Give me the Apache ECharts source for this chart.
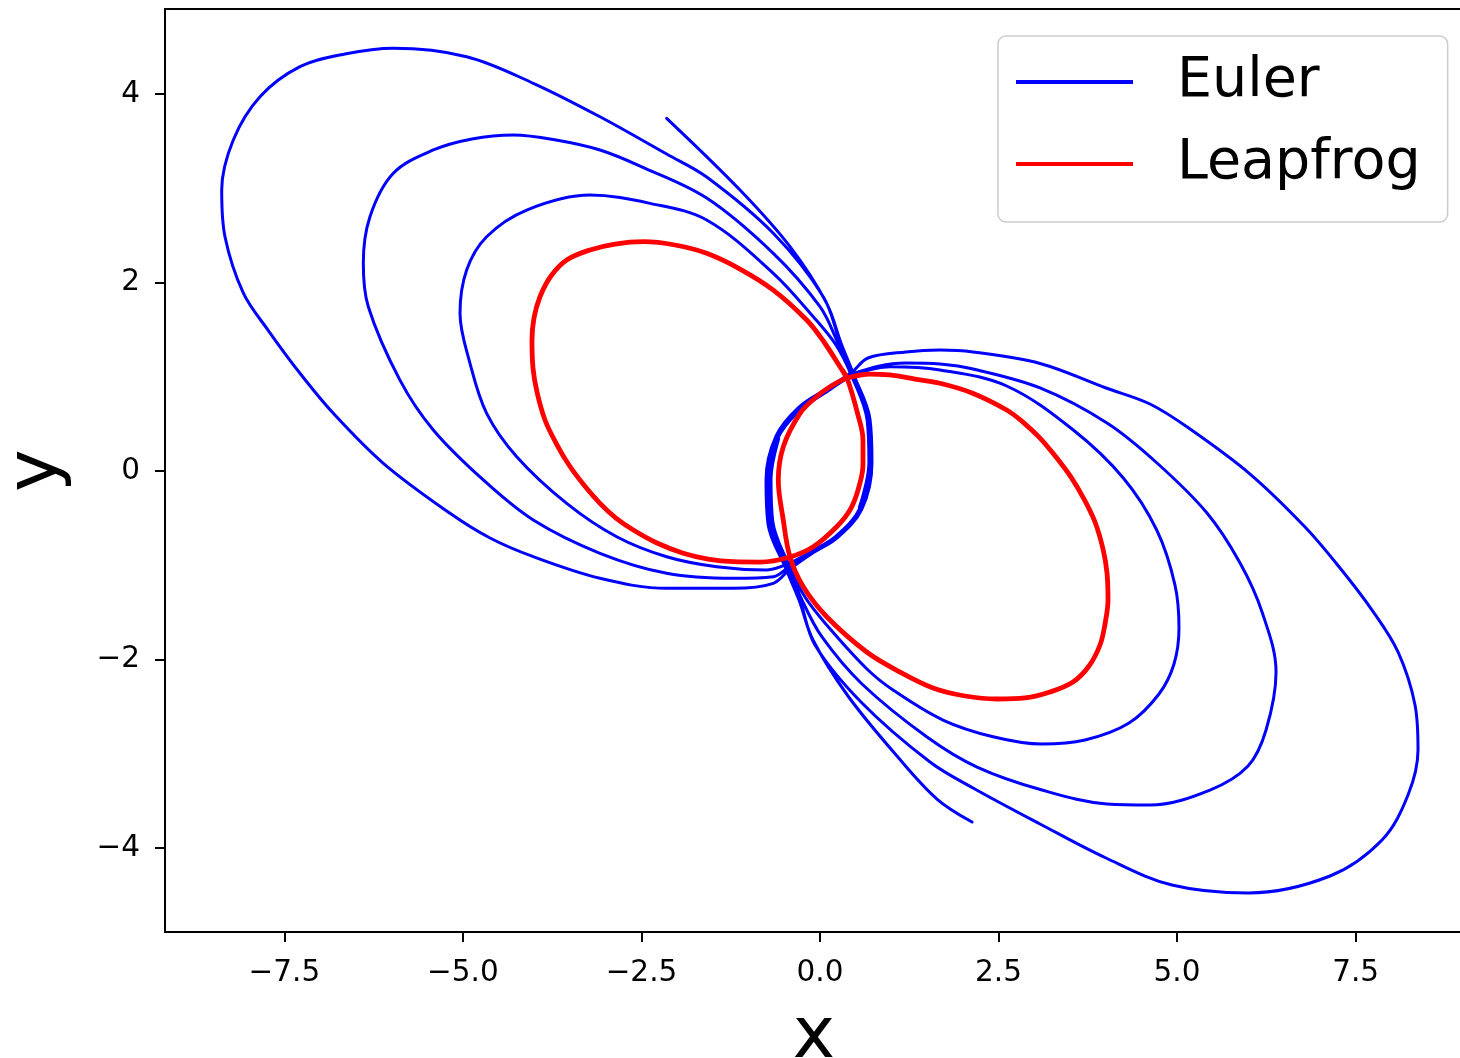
<!DOCTYPE html>
<html>
<head>
<meta charset="utf-8">
<script src="https://cdn.jsdelivr.net/npm/echarts@6/dist/echarts.min.js"></script>
<style>
html,body{margin:0;padding:0;background:#ffffff;}
#chart{width:1460px;height:1058px;}
</style>
</head>
<body>
<div id="chart"></div>
<script>
// ---- tick values and labels ----
const xTicks = [-7.5, -5, -2.5, 0, 2.5, 5, 7.5];
const xTickLabels = ['\u22127.5', '\u22125.0', '\u22122.5', '0.0', '2.5', '5.0', '7.5'];
const yTicks = [-4, -2, 0, 2, 4];
const yTickLabels = ['\u22124', '\u22122', '0', '2', '4'];

// ---- Euler, body on the left lobe ----
const eulerLeftStart = [[0.55,-0.39],[0.685,0.085],[0.66,0.54],[0.44,1.015]];
const eulerLeftLoop1 = [
  [0.224,1.337],[-0.094,1.637],[-0.654,2.098],[-1.587,2.663],[-2.381,2.840],[-3.221,2.928],
  [-4.107,2.769],[-4.668,2.486],[-4.948,2.133],[-5.041,1.673],[-4.901,1.143],
  [-4.668,0.612],[-4.247,0.152],[-3.547,-0.343],[-2.847,-0.697],[-2.147,-0.909],[-1.447,-1.015],
  [-0.746,-1.050],[-0.420,-0.976],
  [-0.112,-0.849],[0.224,-0.690],[0.560,-0.393],[0.700,0.085],[0.672,0.541],[0.448,1.019]
];
const eulerLeftLoop2 = [
  [0.252,1.358],[0.000,1.743],[-0.654,2.310],[-1.587,2.897],[-2.521,3.236],[-3.081,3.406],
  [-3.697,3.512],[-4.295,3.565],[-4.873,3.523],[-5.415,3.406],[-5.975,3.159],[-6.302,2.698],
  [-6.395,2.204],[-6.325,1.743],[-5.882,0.964],[-5.415,0.435],[-4.715,-0.095],[-4.015,-0.520],
  [-3.081,-0.873],[-2.147,-1.085],[-1.214,-1.138],[-0.654,-1.121],[-0.420,-1.008],
  [-0.112,-0.862],[0.230,-0.700],[0.572,-0.400],[0.714,0.085],[0.686,0.545],[0.455,1.030]
];
const eulerLeftLoop3 = [
  [0.280,1.369],[0.046,1.849],[-0.654,2.522],[-1.587,3.119],[-2.147,3.363],[-3.081,3.759],
  [-4.015,4.114],[-4.948,4.396],[-5.975,4.485],[-6.652,4.424],[-7.282,4.290],[-7.842,3.971],
  [-8.216,3.512],[-8.378,2.981],[-8.332,2.486],[-8.076,1.889],[-7.730,1.496],[-7.282,1.037],
  [-6.815,0.612],[-6.115,0.082],[-5.181,-0.449],[-4.621,-0.711],[-4.015,-0.909],[-3.081,-1.138],
  [-2.147,-1.245],[-1.214,-1.245],[-0.654,-1.192],[-0.420,-1.040],
  [-0.112,-0.875],[0.236,-0.712],[0.585,-0.408],[0.728,0.085],[0.700,0.550],[0.462,1.040]
];
const eulerLeftTail = [[0.294,1.358],[0.094,1.779],[-0.420,2.380],[-1.120,2.981],[-2.147,3.742]];

// ---- Euler, body on the right lobe ----
const eulerRightStart = [[-0.578,0.345],[-0.686,-0.095],[-0.66,-0.54],[-0.44,-0.99]];
const eulerRightLoop1 = [
  [-0.210,-1.337],[0.094,-1.634],[0.654,-2.098],[1.022,-2.323],[1.722,-2.642],[2.423,-2.819],
  [3.109,-2.897],[3.711,-2.854],[4.322,-2.677],[4.747,-2.366],[4.957,-2.048],[5.027,-1.666],
  [4.971,-1.210],[4.715,-0.626],[4.247,-0.074],[3.547,0.435],[2.614,0.902],[1.680,1.072],
  [0.980,1.107],[0.448,1.008],
  [0.112,0.849],[-0.280,0.647],[-0.588,0.350],[-0.700,-0.095],[-0.672,-0.541],[-0.448,-0.997]
];
const eulerRightLoop2 = [
  [-0.252,-1.369],[0.028,-1.761],[0.588,-2.260],[1.498,-2.822],[2.199,-3.141],[3.109,-3.385],
  [4.019,-3.533],[4.621,-3.544],[5.461,-3.385],[5.994,-3.130],[6.246,-2.748],[6.386,-2.133],
  [6.190,-1.496],[5.882,-0.976],[5.419,-0.446],[4.719,0.085],[4.019,0.509],[3.081,0.881],
  [2.143,1.082],[1.680,1.135],[1.204,1.146],[0.448,1.029],
  [0.112,0.870],[-0.280,0.668],[-0.602,0.361],[-0.728,-0.095],[-0.700,-0.552],[-0.462,-1.019]
];
const eulerRightLoop3 = [
  [-0.280,-1.369],[-0.070,-1.846],[0.588,-2.462],[1.540,-3.088],[2.143,-3.363],[3.081,-3.745],
  [4.005,-4.106],[4.929,-4.393],[5.994,-4.477],[7.142,-4.297],[7.870,-3.915],[8.234,-3.438],
  [8.374,-2.960],[8.332,-2.483],[8.094,-1.920],[7.730,-1.475],[7.282,-1.029],[6.792,-0.594],
  [6.022,-0.032],[5.181,0.446],[4.621,0.711],[4.005,0.881],[3.081,1.141],[2.143,1.263],
  [1.680,1.284],[1.204,1.263],[0.672,1.199],[0.448,1.050],
  [0.112,0.881],[-0.294,0.679],[-0.616,0.371],[-0.756,-0.095],[-0.728,-0.562],[-0.476,-1.040]
];
const eulerRightTail = [[-0.294,-1.369],[-0.098,-1.793],[0.392,-2.387],[1.078,-3.024],[1.638,-3.480],[2.129,-3.724]];

// ---- Leapfrog, the two closed orbits ----
const leapfrogLeft = [
  [0.378,0.987],[0.280,1.107],[0.056,1.369],[-0.186,1.602],[-0.654,1.920],[-1.120,2.143],
  [-1.587,2.310],[-2.031,2.398],[-2.474,2.433],[-2.871,2.408],[-3.221,2.345],[-3.547,2.239],
  [-3.767,2.069],[-3.921,1.849],[-4.005,1.623],[-4.033,1.390],[-4.019,1.093],[-3.963,0.838],
  [-3.851,0.541],[-3.697,0.297],[-3.515,0.064],[-3.305,-0.149],[-3.081,-0.343],[-2.857,-0.499],
  [-2.614,-0.626],[-2.283,-0.764],[-1.914,-0.873],[-1.568,-0.934],[-1.214,-0.962],[-0.840,-0.966],
  [-0.420,-0.912],[-0.094,-0.803],[0.234,-0.591],[0.420,-0.414],[0.532,-0.202],[0.602,0.064],
  [0.602,0.329],[0.532,0.594],[0.378,0.987]
];
const leapfrogRight = [
  [0.378,0.987],[0.700,1.029],[0.980,1.019],[1.330,0.976],[1.680,0.931],[2.129,0.828],
  [2.614,0.647],[2.857,0.509],[3.081,0.350],[3.305,0.149],[3.515,-0.064],[3.697,-0.297],
  [3.851,-0.541],[3.963,-0.828],[4.019,-1.082],[4.033,-1.369],[3.991,-1.623],[3.921,-1.846],
  [3.767,-2.069],[3.543,-2.239],[3.221,-2.345],[2.871,-2.408],[2.479,-2.419],[2.031,-2.387],
  [1.582,-2.302],[1.120,-2.133],[0.654,-1.920],[0.094,-1.546],[-0.234,-1.228],[-0.420,-0.912],
  [-0.514,-0.520],[-0.584,-0.095],[-0.514,0.258],[-0.280,0.612],[-0.070,0.775],[0.140,0.894],
  [0.378,0.987]
];

// ---- build series data from the arrays ----
const eulerLeftPath = [].concat(eulerLeftStart, eulerLeftLoop1, eulerLeftLoop2, eulerLeftLoop3, eulerLeftTail);
const eulerRightPath = [].concat(eulerRightStart, eulerRightLoop1, eulerRightLoop2, eulerRightLoop3, eulerRightTail);
const leapLeftPath = leapfrogLeft.concat(leapfrogLeft.slice(1, 3));
const leapRightPath = leapfrogRight.concat(leapfrogRight.slice(1, 3));

const FONT = 'DejaVu Sans';
const BLUE = '#0000ff';
const RED = '#ff0000';

function lineSeries(name, data, color, width) {
  return {
    name: name, type: 'line', data: data,
    symbol: 'none', showSymbol: false, smooth: 0.35,
    lineStyle: {color: color, width: width, join: 'round', cap: 'round'},
    itemStyle: {color: color},
    silent: true, animation: false
  };
}

const chart = echarts.init(document.getElementById('chart'), null, {renderer: 'canvas'});
chart.setOption({
  backgroundColor: '#ffffff',
  animation: false,
  grid: {
    left: 165, top: 9, right: -3, bottom: 126,
    outerBoundsMode: 'none', containLabel: false,
    show: true, borderColor: '#000000', borderWidth: 2, backgroundColor: '#ffffff'
  },
  legend: {
    data: ['Euler', 'Leapfrog'],
    orient: 'vertical',
    left: 998, top: 36,
    padding: [12, 27, 24, 18],
    icon: 'rect',
    itemWidth: 117, itemHeight: 4, itemGap: 14,
    backgroundColor: 'rgba(255,255,255,0.8)',
    borderColor: '#cccccc', borderWidth: 1.5, borderRadius: 8,
    textStyle: {fontFamily: FONT, fontSize: 55.5, color: '#000000', lineHeight: 62, padding: [6, 0, 0, 39]},
    selectedMode: false
  },
  xAxis: {
    type: 'value', min: -9.172, max: 9.004,
    name: 'x', nameLocation: 'middle', nameGap: 70,
    nameTextStyle: {fontFamily: FONT, fontSize: 71.5, color: '#000000'},
    axisLine: {show: true, onZero: false, lineStyle: {color: '#000000', width: 2}},
    axisTick: {show: true, inside: false, length: 10, customValues: xTicks, lineStyle: {color: '#000000', width: 2}},
    axisLabel: {
      show: true, customValues: xTicks, margin: 26,
      fontFamily: FONT, fontSize: 29.5, color: '#000000',
      formatter: function (v) {
        const i = xTicks.findIndex(function (t) { return Math.abs(t - v) < 1e-9; });
        return i >= 0 ? xTickLabels[i] : '';
      }
    },
    splitLine: {show: false}
  },
  yAxis: {
    type: 'value', min: -4.891, max: 4.902,
    name: 'y', nameLocation: 'middle', nameGap: 92, nameRotate: 90,
    nameTextStyle: {fontFamily: FONT, fontSize: 71.5, color: '#000000'},
    axisLine: {show: true, onZero: false, lineStyle: {color: '#000000', width: 2}},
    axisTick: {show: true, inside: false, length: 10, customValues: yTicks, lineStyle: {color: '#000000', width: 2}},
    axisLabel: {
      show: true, customValues: yTicks, margin: 25,
      fontFamily: FONT, fontSize: 29.5, color: '#000000',
      formatter: function (v) {
        const i = yTicks.findIndex(function (t) { return Math.abs(t - v) < 1e-9; });
        return i >= 0 ? yTickLabels[i] : '';
      }
    },
    splitLine: {show: false}
  },
  series: [
    lineSeries('Euler', eulerLeftPath, BLUE, 3),
    lineSeries('Euler', eulerRightPath, BLUE, 3),
    lineSeries('Leapfrog', leapLeftPath, RED, 4.8),
    lineSeries('Leapfrog', leapRightPath, RED, 4.8)
  ]
});
</script>
</body>
</html>
